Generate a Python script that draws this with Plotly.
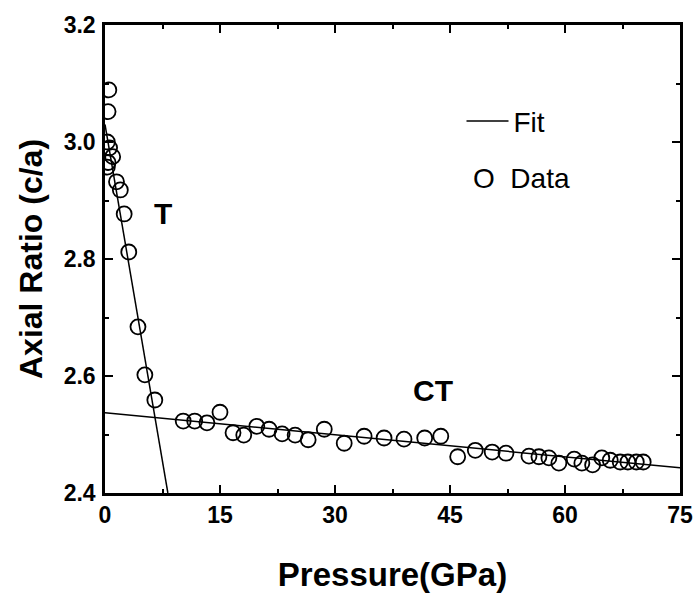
import plotly.graph_objects as go

# Data
pressure = [0.5, 0.4, 0.3, 0.6, 1.0, 0.4, 0.3, 1.5, 2.0, 2.5, 3.1, 4.3, 5.2, 6.5,
            10.2, 11.7, 13.3, 15.0, 16.7, 18.1, 19.8, 21.4, 23.1, 24.8, 26.5, 28.6,
            31.2, 33.8, 36.4, 39.0, 41.7, 43.8, 46.0, 48.3, 50.5, 52.3, 55.3, 56.6,
            57.9, 59.2, 61.2, 62.2, 63.6, 64.8, 65.9, 67.2, 68.2, 69.3, 70.2]
ratio = [3.089, 3.052, 3.000, 2.990, 2.975, 2.965, 2.957, 2.932, 2.918, 2.877, 2.812, 2.684, 2.602, 2.559,
         2.523, 2.523, 2.520, 2.538, 2.503, 2.499, 2.514, 2.509, 2.501, 2.499, 2.491, 2.509,
         2.485, 2.497, 2.494, 2.492, 2.494, 2.497, 2.462, 2.473, 2.470, 2.468, 2.463, 2.462,
         2.460, 2.451, 2.458, 2.451, 2.448, 2.460, 2.456, 2.453, 2.453, 2.453, 2.453]

# Fit lines (T phase and CT phase), endpoints
fit_T_x = [0.0, 8.2]
fit_T_y = [3.03, 2.40]
fit_CT_x = [0.0, 75.0]
fit_CT_y = [2.537, 2.443]

x_ticks = [0, 15, 30, 45, 60, 75]
y_ticks = [2.4, 2.6, 2.8, 3.0, 3.2]

FONT = "Liberation Sans, Arial, sans-serif"

fig = go.Figure()
fig.add_trace(go.Scatter(
    x=fit_T_x + [None] + fit_CT_x, y=fit_T_y + [None] + fit_CT_y,
    mode="lines", line=dict(color="black", width=1.5), name="Fit",
    showlegend=True, connectgaps=False))
fig.add_trace(go.Scatter(
    x=pressure, y=ratio, mode="markers", name="Data",
    marker=dict(symbol="circle-open", size=15, color="black", line=dict(width=1.8, color="black")),
    showlegend=False, cliponaxis=True))

axis_common = dict(
    showline=True, linecolor="black", linewidth=2.5, mirror="ticks",
    ticks="inside", ticklen=8, tickwidth=2, tickcolor="black",
    showgrid=False, zeroline=False,
    tickfont=dict(family=FONT, size=23, color="black", weight="bold"),
)

fig.update_xaxes(
    range=[0, 75], tickvals=x_ticks, ticktext=[str(v) for v in x_ticks],
    minor=dict(ticks="inside", ticklen=4, tickwidth=2, dtick=7.5, tick0=0, tickcolor="black"),
    title=dict(text="Pressure(GPa)", font=dict(family=FONT, size=33, color="black", weight="bold"), standoff=36),
    ticklabelstandoff=0,
    **axis_common)
fig.update_yaxes(
    range=[2.4, 3.2], tickvals=y_ticks, ticktext=[f"{v:.1f}" for v in y_ticks],
    minor=dict(ticks="inside", ticklen=4, tickwidth=2, dtick=0.1, tick0=2.4, tickcolor="black"),
    title=dict(text="Axial Ratio (c/a)", font=dict(family=FONT, size=32, color="black", weight="bold"), standoff=12),
    ticklabelstandoff=2,
    **axis_common)

fig.add_annotation(x=7.5, y=2.877, text="T", showarrow=False,
                   font=dict(family=FONT, size=30, color="black", weight="bold"))
fig.add_annotation(x=42.8, y=2.575, text="CT", showarrow=False,
                   font=dict(family=FONT, size=30, color="black", weight="bold"))
fig.add_annotation(x=49.0, y=2.938, text="O  Data", showarrow=False, xanchor="left",
                   xshift=-10, font=dict(family=FONT, size=28, color="black"))

fig.update_layout(
    width=699, height=596,
    margin=dict(l=105, r=19, t=25, b=103, autoexpand=False),
    paper_bgcolor="white", plot_bgcolor="white",
    showlegend=True,
    legend=dict(x=0.62, y=0.794, xanchor="left", yanchor="middle", bgcolor="rgba(0,0,0,0)",
                font=dict(family=FONT, size=28, color="black"), itemwidth=42),
)

fig.write_html("out.html", config={"displayModeBar": False},
               post_script="document.body.style.margin='0px';")
